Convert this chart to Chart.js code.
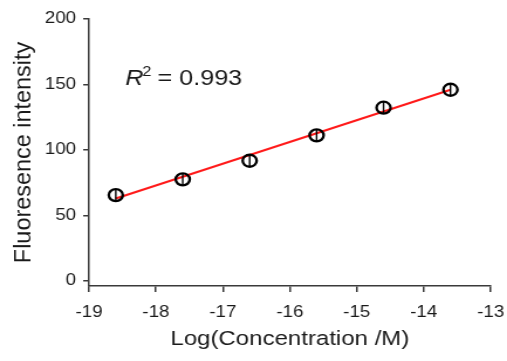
<!DOCTYPE html>
<html>
<head>
<meta charset="utf-8">
<script src="https://cdn.jsdelivr.net/npm/chart.js@4/dist/chart.umd.min.js"></script>
<style>
  html, body { margin: 0; padding: 0; background: #fff; overflow: hidden; }
  /* the reference figure is stretched horizontally, so the canvas is drawn narrower and widened */
  #wrap { width: 433px; height: 361px; transform: scaleX(1.171); transform-origin: 0 0; }
</style>
</head>
<body>
<div id="wrap"><canvas id="fluoChart"></canvas></div>
<script>
// Measured points (log concentration vs fluorescence)
const logConc = [-18.6, -17.6, -16.6, -15.6, -14.6, -13.6]
const intensity = [65.6, 77.6, 91.8, 111.2, 132.3, 146.0]
const errBars = [4.6, 4.6, 4.6, 4.6, 4.6, 4.6]

// Fitted line end points
const fitX = [-18.6, -13.6]
const fitY = [63.0, 146.0]

const yTicks = [0, 50, 100, 150, 200]
const rSquared = "0.993"
const yTitle = "Fluoresence intensity"

const axisColor = "#3a3a3a"
const textColor = "#1a1a1a"
const font = "'Liberation Sans', Arial, sans-serif"

// vertical error bars through each circle
const errorBarPlugin = {
  id: "errorBars",
  afterDatasetsDraw(chart) {
    const { ctx, scales } = chart
    ctx.save()
    ctx.strokeStyle = "#000"
    ctx.lineWidth = 1.4
    logConc.forEach((x, i) => {
      const px = scales.x.getPixelForValue(x)
      const top = scales.y.getPixelForValue(intensity[i] + errBars[i])
      const bot = scales.y.getPixelForValue(intensity[i] - errBars[i])
      ctx.beginPath()
      ctx.moveTo(px, top)
      ctx.lineTo(px, bot)
      ctx.stroke()
    })
    ctx.restore()
  },
}

// R^2 label and the (stretched) y axis title
const labelPlugin = {
  id: "labels",
  afterDraw(chart) {
    const { ctx, chartArea } = chart
    const x = 107
    const y = 85
    ctx.save()
    ctx.fillStyle = textColor
    ctx.textBaseline = "alphabetic"
    ctx.font = "italic 21.5px " + font
    ctx.fillText("R", x, y)
    const rw = ctx.measureText("R").width
    ctx.font = "14px " + font
    ctx.fillText("2", x + rw - 1, y - 9.5)
    ctx.font = "21.5px " + font
    ctx.fillText(" = " + rSquared, x + rw + 6, y)
    ctx.restore()

    ctx.save()
    ctx.fillStyle = textColor
    ctx.font = "20px " + font
    ctx.textAlign = "center"
    ctx.textBaseline = "middle"
    ctx.translate(20, (chartArea.top + chartArea.bottom) / 2)
    ctx.rotate(-Math.PI / 2)
    ctx.scale(1.171, 1)
    ctx.fillText(yTitle, 0, 0)
    ctx.restore()
  },
}

new Chart(document.getElementById("fluoChart"), {
  type: "scatter",
  data: {
    datasets: [
      {
        type: "line",
        data: fitX.map((x, i) => ({ x: x, y: fitY[i] })),
        borderColor: "#ff1a1a",
        borderWidth: 2,
        pointRadius: 0,
        fill: false,
        order: 2,
      },
      {
        data: logConc.map((x, i) => ({ x: x, y: intensity[i] })),
        pointStyle: "circle",
        pointRadius: 6,
        pointBorderWidth: 2.3,
        pointBorderColor: "#000",
        pointBackgroundColor: "rgba(0,0,0,0)",
        order: 1,
      },
    ],
  },
  options: {
    responsive: true,
    maintainAspectRatio: false,
    animation: false,
    layout: { padding: { top: 19, right: 14, left: 0, bottom: 0 } },
    plugins: {
      legend: { display: false },
      tooltip: { enabled: false },
    },
    scales: {
      x: {
        type: "linear",
        min: -19,
        max: -13,
        afterFit: (scale) => {
          scale.height = 75
          scale.paddingRight = 12
          scale.paddingLeft = 12
        },
        ticks: {
          stepSize: 1,
          color: textColor,
          font: { family: font, size: 16 },
          padding: 11,
        },
        grid: { drawOnChartArea: false, tickLength: 6, color: axisColor, lineWidth: 1.5 },
        border: { display: true, color: axisColor, width: 1.5 },
        title: {
          display: true,
          text: "Log(Concentration /M)",
          color: textColor,
          font: { family: font, size: 20.5 },
          padding: { top: 0, bottom: 9 },
        },
      },
      y: {
        min: -3.8,
        max: 200,
        afterFit: (scale) => { scale.width = 76 },
        afterBuildTicks: (scale) => {
          scale.ticks = yTicks.map((v) => ({ value: v }))
        },
        ticks: {
          color: textColor,
          font: { family: font, size: 16 },
          padding: 6,
        },
        grid: { drawOnChartArea: false, tickLength: 5, color: axisColor, lineWidth: 1.5 },
        border: { display: true, color: axisColor, width: 1.5 },
        title: { display: false },
      },
    },
  },
  plugins: [errorBarPlugin, labelPlugin],
})
</script>
</body>
</html>
